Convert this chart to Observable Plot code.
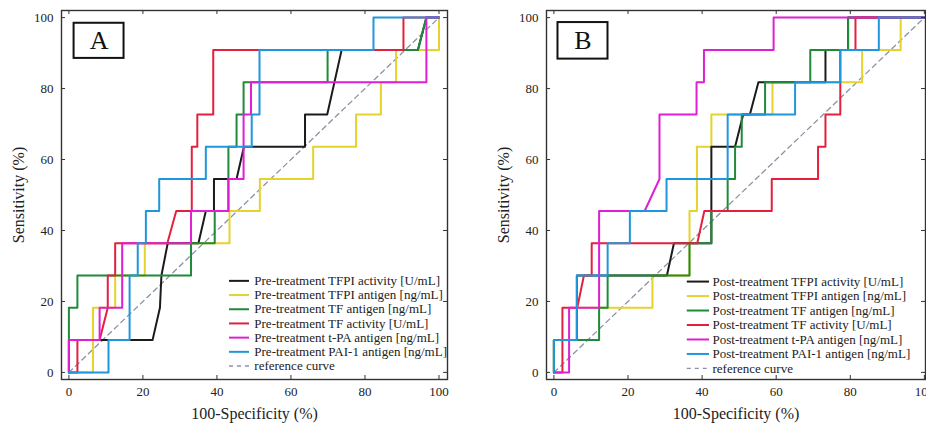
<!DOCTYPE html>
<html>
<head>
<meta charset="utf-8">
<script src="https://cdn.jsdelivr.net/npm/d3@7"></script>
<script src="https://cdn.jsdelivr.net/npm/@observablehq/plot@0.6"></script>
<style>
  html, body { margin: 0; padding: 0; background: #fff; overflow: hidden; width: 926px; height: 426px; }
  #wrap { position: relative; width: 926px; height: 426px; overflow: hidden; }
  #panelA { position: absolute; left: 0; top: 0; width: 463px; }
  #panelB { position: absolute; left: 463px; top: 0; width: 470px; }
  #wrap svg { max-width: none !important; overflow: visible; }
  #wrap svg, #wrap svg text { font-family: "Liberation Serif", "Times New Roman", serif !important; }
</style>
</head>
<body>
<div id="wrap"><div id="panelA"></div><div id="panelB"></div></div>
<script>
// Axis ticks
const xTicks = [0, 20, 40, 60, 80, 100];
const yTicks = [0, 20, 40, 60, 80, 100];

// Markers and their line colours (same order in both panels)
const markers = [
  "TFPI activity [U/mL]",
  "TFPI antigen [ng/mL]",
  "TF antigen [ng/mL]",
  "TF activity [U/mL]",
  "t-PA antigen [ng/mL]",
  "PAI-1 antigen [ng/mL]"
];
const colors = ["#1b1b1b", "#e6d22c", "#1f8a3a", "#e3213f", "#e01fd2", "#1f97dd"];
const referenceColor = "#8a93a6";
const referenceCurve = [[0, 0], [100, 100]];

// ROC points [100-specificity %, sensitivity %] — pre-treatment
const preTfpiActivity = [[0,0],[0,9.1],[22.6,9.1],[24.6,18.2],[25,27.3],[26.7,36.4],[35,36.4],[37,45.5],[39.2,45.5],[39.2,54.5],[45.3,54.5],[47.3,63.6],[63.8,63.6],[63.8,72.7],[69.8,72.7],[73.7,90.9],[94.3,90.9],[96.6,100],[100,100]];
const preTfpiAntigen = [[0,0],[6.5,0],[6.5,18.2],[12.5,18.2],[12.5,27.3],[20.5,27.3],[20.5,36.4],[43.4,36.4],[43.4,45.5],[51.6,45.5],[51.6,54.5],[66,54.5],[66,63.6],[77.6,63.6],[77.6,72.7],[84.3,72.7],[84.3,81.8],[88.4,81.8],[88.4,90.9],[100,90.9],[100,100]];
const preTfAntigen = [[0,0],[0,18.2],[2.3,18.2],[2.3,27.3],[33,27.3],[33,36.4],[39.4,36.4],[39.4,45.5],[43.1,45.5],[43.1,63.6],[45.3,63.6],[45.3,72.7],[47.2,72.7],[47.2,81.8],[69.9,81.8],[69.9,90.9],[94.3,90.9],[96.6,100],[100,100]];
const preTfActivity = [[0,0],[2.3,0],[2.3,9.1],[8.3,9.1],[10.5,18.2],[10.5,27.3],[12.5,27.3],[12.5,36.4],[26.6,36.4],[29,45.5],[33.2,45.5],[33.2,63.6],[34.7,63.6],[34.7,72.7],[39,72.7],[39,90.9],[90.4,90.9],[90.4,100],[100,100]];
const preTpaAntigen = [[0,0],[0,9.1],[8.3,9.1],[8.3,18.2],[14.4,18.2],[14.4,36.4],[33,36.4],[33,45.5],[43.1,45.5],[43.1,54.5],[47.2,54.5],[47.2,72.7],[49.2,72.7],[49.2,81.8],[96.6,81.8],[96.6,100],[100,100]];
const prePai1Antigen = [[0,0],[10.7,0],[10.7,9.1],[16.4,9.1],[16.4,27.3],[18.6,27.3],[18.6,36.4],[20.8,36.4],[20.8,45.5],[24.4,45.5],[24.4,54.5],[37,54.5],[37,63.6],[49.4,63.6],[49.4,72.7],[51.5,72.7],[51.5,90.9],[82.3,90.9],[82.3,100],[100,100]];

// ROC points — post-treatment
const postTfpiActivity = [[0,0],[0,9.1],[6.2,9.1],[6.2,27.3],[30.5,27.3],[32.4,36.4],[42.5,36.4],[42.5,63.6],[48.9,63.6],[51.1,72.7],[52.9,72.7],[55.2,81.8],[73.3,81.8],[73.3,90.9],[79.4,90.9],[79.4,100],[100,100]];
const postTfpiAntigen = [[0,0],[0,9.1],[6.2,9.1],[6.2,18.2],[26.6,18.2],[26.6,27.3],[36.6,27.3],[36.6,45.5],[38.6,45.5],[38.6,63.6],[42.5,63.6],[42.5,72.7],[59,72.7],[59,81.8],[83.2,81.8],[83.2,90.9],[93.6,90.9],[93.6,100],[100,100]];
const postTfAntigen = [[0,0],[0,9.1],[12.2,9.1],[12.2,18.2],[14.5,18.2],[14.5,27.3],[36.6,27.3],[36.6,36.4],[42.5,36.4],[42.5,45.5],[46.9,45.5],[46.9,54.5],[48.9,54.5],[48.9,63.6],[50.7,63.6],[50.7,72.7],[57,72.7],[57,81.8],[69.2,81.8],[69.2,90.9],[79.4,90.9],[79.4,100],[100,100]];
const postTfActivity = [[0,0],[2.3,0],[2.3,18.2],[6.3,18.2],[8.1,27.3],[10.2,27.3],[10.2,36.4],[38.7,36.4],[40.6,45.5],[58.8,45.5],[58.8,54.5],[71.3,54.5],[71.3,63.6],[73.3,63.6],[73.3,72.7],[77.3,72.7],[77.3,90.9],[81.4,90.9],[81.4,100],[100,100]];
const postTpaAntigen = [[0,0],[4.1,0],[4.1,18.2],[12.2,18.2],[12.2,45.5],[24.5,45.5],[28.5,54.5],[28.5,72.7],[38.5,72.7],[38.5,81.8],[40.5,81.8],[40.5,90.9],[59.3,90.9],[59.3,100],[100,100]];
const postPai1Antigen = [[0,0],[0,9.1],[6.2,9.1],[6.2,27.3],[14.5,27.3],[14.5,36.4],[20.5,36.4],[20.5,45.5],[30.4,45.5],[30.4,54.5],[46.9,54.5],[46.9,72.7],[65.1,72.7],[65.1,81.8],[77.3,81.8],[77.3,90.9],[87.7,90.9],[87.7,100],[100,100]];

const FONT = "'Liberation Serif', 'Times New Roman', serif";
const drawOrder = [1, 0, 2, 3, 4, 5];

function rocPanel(opts) {
  const {series, prefix, letter, xDomain, yDomain, width, marginLeft, marginRight,
         legend, box, refItalic} = opts;
  const height = 426, marginTop = 10, marginBottom = 47;
  const pxX = (xDomain[1] - xDomain[0]) / (width - marginLeft - marginRight);
  const pxY = (yDomain[1] - yDomain[0]) / (height - marginTop - marginBottom);
  const tick = 4;

  const legendRows = markers.map((m, i) => ({label: `${prefix} ${m}`, color: colors[i], y: legend.y0 - i * legend.dy}));
  const refRow = {label: "reference curve", y: legend.y0 - 6 * legend.dy};

  const marks = [
    // reference diagonal
    Plot.line(referenceCurve, {x: d => d[0], y: d => d[1], stroke: referenceColor, strokeWidth: 1.3, strokeDasharray: "5,4"}),
    // ROC step curves
    ...drawOrder.map(i => Plot.line(series[i], {x: d => d[0], y: d => d[1], stroke: colors[i], strokeWidth: 2})),
    // inward ticks on all four sides
    Plot.ruleX(xTicks, {x: d => d, y1: yDomain[0], y2: yDomain[0] + tick * pxY, stroke: "#333", strokeWidth: 1}),
    Plot.ruleX(xTicks, {x: d => d, y1: yDomain[1], y2: yDomain[1] - tick * pxY, stroke: "#333", strokeWidth: 1}),
    Plot.ruleY(yTicks, {y: d => d, x1: xDomain[0], x2: xDomain[0] + tick * pxX, stroke: "#333", strokeWidth: 1}),
    Plot.ruleY(yTicks, {y: d => d, x1: xDomain[1], x2: xDomain[1] - tick * pxX, stroke: "#333", strokeWidth: 1}),
    Plot.frame({stroke: "#333", strokeWidth: 1.4}),
    Plot.axisX({ticks: xTicks, tickSize: 0, tickPadding: 7, fontSize: 13, fontFamily: FONT, label: null, tickFormat: d => d}),
    Plot.axisY({ticks: yTicks, tickSize: 0, tickPadding: 8, fontSize: 13, fontFamily: FONT, label: null, tickFormat: d => d}),
    // axis titles
    Plot.text(["100-Specificity (%)"], {frameAnchor: "bottom", dy: 34, textAnchor: "middle", lineAnchor: "middle", fontSize: 16, fontFamily: FONT, fill: "#222"}),
    Plot.text(["Sensitivity (%)"], {frameAnchor: "left", dx: -43, rotate: -90, textAnchor: "middle", lineAnchor: "middle", fontSize: 16, fontFamily: FONT, fill: "#222"}),
    // panel letter
    Plot.rect([box], {x1: d => d.x1, x2: d => d.x2, y1: d => d.y1, y2: d => d.y2, fill: "white", stroke: "#111", strokeWidth: 2}),
    Plot.text([box], {x: d => (d.x1 + d.x2) / 2, y: d => (d.y1 + d.y2) / 2, text: () => letter, fontSize: 26, fontFamily: FONT, fill: "#111"}),
    // legend
    Plot.ruleY(legendRows, {y: d => d.y, x1: legend.x1, x2: legend.x2, stroke: d => d.color, strokeWidth: 2}),
    Plot.ruleY([refRow], {y: d => d.y, x1: legend.x1, x2: legend.x2, stroke: referenceColor, strokeWidth: 1.3, strokeDasharray: "4,4"}),
    Plot.text([...legendRows, refRow], {x: legend.tx, y: d => d.y, text: d => d.label, textAnchor: "start", fontSize: 13, fontFamily: FONT, fill: "#222",
      fontStyle: d => (d.label === "reference curve" && refItalic) ? "italic" : "normal"})
  ];

  return Plot.plot({
    width, height, marginLeft, marginRight, marginTop, marginBottom,
    style: {fontFamily: FONT, background: "transparent", overflow: "visible", color: "#222", maxWidth: "none"},
    x: {domain: xDomain},
    y: {domain: yDomain},
    color: {type: "identity"},
    marks
  });
}

const panelA = rocPanel({
  series: [preTfpiActivity, preTfpiAntigen, preTfAntigen, preTfActivity, preTpaAntigen, prePai1Antigen],
  prefix: "Pre-treatment",
  letter: "A",
  xDomain: [-2, 102.3], yDomain: [-2, 102],
  width: 463, marginLeft: 61, marginRight: 16,
  legend: {x1: 43.4, x2: 48.8, tx: 50.1, y0: 25.8, dy: 4.0},
  box: {x1: 1.4, x2: 14.9, y1: 88.5, y2: 98.4},
  refItalic: true
});

const panelB = rocPanel({
  series: [postTfpiActivity, postTfpiAntigen, postTfAntigen, postTfActivity, postTpaAntigen, postPai1Antigen],
  prefix: "Post-treatment",
  letter: "B",
  xDomain: [-2, 100.3], yDomain: [-2, 102],
  width: 470, marginLeft: 83, marginRight: 8,
  legend: {x1: 36, x2: 42, tx: 42.8, y0: 25.6, dy: 4.08},
  box: {x1: 1.1, x2: 14.6, y1: 88.3, y2: 98.6},
  refItalic: false
});

document.getElementById("panelA").append(panelA);
document.getElementById("panelB").append(panelB);
</script>
</body>
</html>
